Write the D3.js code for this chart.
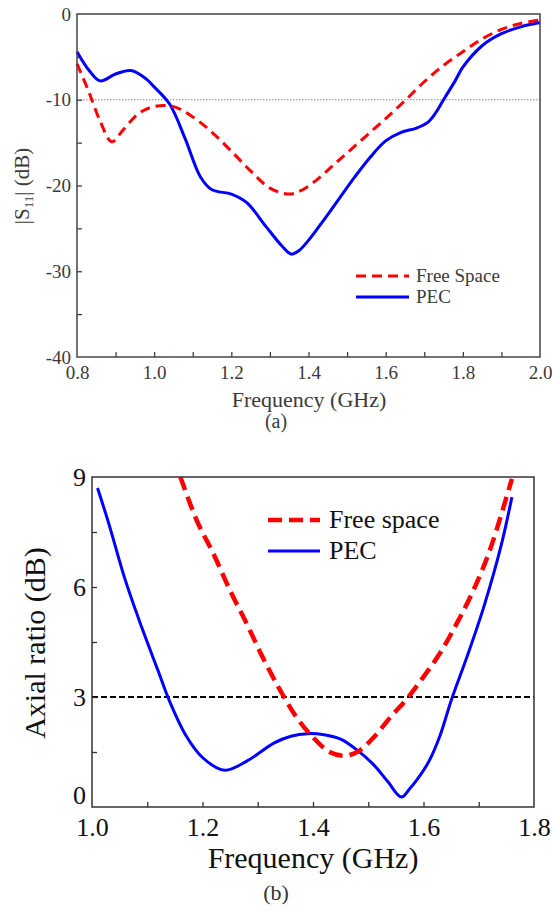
<!DOCTYPE html>
<html lang="en">
<head>
<meta charset="UTF-8">
<title>S11 and axial ratio</title>
<style>
  body { margin: 0; background: #fff; }
  svg text { font-family: "Liberation Serif", "Times New Roman", "DejaVu Serif", serif; }
</style>
</head>
<body>
<script src="https://cdnjs.cloudflare.com/ajax/libs/d3/7.8.5/d3.min.js"></script>
<script>
// (a) |S11| data, frequency in GHz
const s11Freq = [0.80, 0.83, 0.86, 0.89, 0.92, 0.96, 1.00, 1.05, 1.10, 1.15, 1.20, 1.25, 1.30, 1.35, 1.38, 1.42, 1.46, 1.50, 1.55, 1.60, 1.65, 1.70, 1.75, 1.80, 1.85, 1.90, 1.95, 2.00];
const s11Free = [-5.8, -9.0, -12.5, -14.9, -13.5, -11.6, -10.8, -10.8, -12.0, -13.8, -16.0, -18.3, -20.3, -21.0, -20.6, -19.4, -17.8, -16.2, -14.2, -12.2, -10.1, -7.9, -6.0, -4.4, -2.9, -1.8, -1.1, -0.7];
const pecFreq = [0.80, 0.83, 0.86, 0.90, 0.94, 0.98, 1.00, 1.04, 1.08, 1.12, 1.15, 1.20, 1.24, 1.29, 1.33, 1.355, 1.375, 1.40, 1.44, 1.48, 1.52, 1.56, 1.60, 1.64, 1.68, 1.71, 1.73, 1.75, 1.78, 1.80, 1.85, 1.90, 1.95, 2.00];
const s11Pec = [-4.4, -6.5, -7.8, -7.0, -6.6, -7.6, -8.5, -10.5, -14.5, -19.0, -20.5, -21.0, -22.0, -24.8, -27.0, -28.0, -27.6, -26.4, -24.0, -21.5, -19.0, -16.7, -14.8, -13.8, -13.3, -12.6, -11.5, -10.0, -7.8, -6.2, -3.7, -2.3, -1.5, -1.0];
const s11XTicks = [0.8, 1.0, 1.2, 1.4, 1.6, 1.8, 2.0];
const s11YTicks = [0, -10, -20, -30, -40];

// (b) axial ratio data
const arFreeFreq = [1.16, 1.19, 1.22, 1.25, 1.28, 1.31, 1.34, 1.37, 1.40, 1.43, 1.455, 1.48, 1.51, 1.54, 1.57, 1.60, 1.63, 1.66, 1.69, 1.72, 1.76];
const arFree = [9.0, 7.8, 6.9, 5.9, 5.0, 4.05, 3.2, 2.45, 1.9, 1.5, 1.4, 1.5, 1.9, 2.45, 2.95, 3.55, 4.2, 5.0, 5.9, 7.0, 8.95];
const arPecFreq = [1.01, 1.03, 1.06, 1.09, 1.12, 1.14, 1.17, 1.20, 1.24, 1.28, 1.33, 1.36, 1.39, 1.42, 1.45, 1.48, 1.51, 1.535, 1.56, 1.575, 1.59, 1.61, 1.63, 1.65, 1.68, 1.71, 1.74, 1.76];
const arPec = [8.7, 7.75, 6.2, 4.9, 3.7, 2.9, 1.95, 1.35, 1.0, 1.25, 1.75, 1.93, 2.0, 1.97, 1.85, 1.55, 1.15, 0.7, 0.27, 0.5, 0.78, 1.25, 1.95, 2.9, 4.15, 5.5, 7.1, 8.45];
const arXTicks = [1.0, 1.2, 1.4, 1.6, 1.8];
const arYTicks = [0, 3, 6, 9];

const svg = d3.select('body').append('svg').attr('width', 552).attr('height', 911);
const serif = '"Liberation Serif", "Times New Roman", "DejaVu Serif", serif';

const red = '#ff0000', blue = '#0000ff';

function zip(xs, ys) { return xs.map((x, i) => ({x: x, y: ys[i]})); }

// ---------- chart (a) ----------
{
  const x = d3.scaleLinear().domain([0.8, 2.0]).range([77, 540]);
  const y = d3.scaleLinear().domain([-40, 0]).range([357, 14]);
  const g = svg.append('g').attr('font-family', serif);
  const txt = '#3a3a3a';

  // -10 dB reference
  g.append('line').attr('x1', x(0.8)).attr('x2', x(2.0)).attr('y1', y(-10)).attr('y2', y(-10))
    .attr('stroke', '#888').attr('stroke-width', 1).attr('stroke-dasharray', '1.5,1.5');

  const line = d3.line().x(d => x(d.x)).y(d => y(d.y)).curve(d3.curveCatmullRom.alpha(0.5));

  g.append('path').datum(zip(pecFreq, s11Pec)).attr('d', line)
    .attr('fill', 'none').attr('stroke', blue).attr('stroke-width', 3);
  g.append('path').datum(zip(s11Freq, s11Free)).attr('d', line)
    .attr('fill', 'none').attr('stroke', red).attr('stroke-width', 3).attr('stroke-dasharray', '10,6');

  // axes (ticks inside)
  const xAxis = d3.axisBottom(x).tickValues(d3.range(0.8, 2.01, 0.1)).tickSizeInner(-5).tickSizeOuter(0)
    .tickFormat(d => s11XTicks.some(t => Math.abs(t - d) < 1e-6) ? d3.format('.1f')(d) : '');
  const gx = g.append('g').attr('transform', `translate(0,${y(-40)})`).call(xAxis);
  const yAxis = d3.axisLeft(y).tickValues(d3.range(-40, 0.1, 5)).tickSizeInner(-5).tickSizeOuter(0)
    .tickFormat(d => s11YTicks.includes(d) ? d : '');
  const gy = g.append('g').attr('transform', `translate(${x(0.8)},0)`).call(yAxis);
  [gx, gy].forEach(a => {
    a.attr('font-family', serif);
    a.select('.domain').remove();
    a.selectAll('.tick line').attr('stroke', '#333').attr('stroke-width', 1.2);
    a.selectAll('.tick text').attr('fill', txt).attr('font-size', 19).attr('font-family', serif);
  });
  gx.selectAll('.tick text').attr('y', 9);
  gy.selectAll('.tick text').attr('x', -6);
  gy.selectAll('.tick').filter(d => d === 0 || d === -40).select('line').remove();
  gx.selectAll('.tick').filter(d => Math.abs(d - 0.8) < 1e-6 || Math.abs(d - 2.0) < 1e-6).select('line').remove();

  g.append('rect').attr('x', x(0.8)).attr('y', y(0)).attr('width', x(2.0) - x(0.8)).attr('height', y(-40) - y(0))
    .attr('fill', 'none').attr('stroke', '#444').attr('stroke-width', 1.5);

  g.append('text').attr('x', 309).attr('y', 407).attr('text-anchor', 'middle')
    .attr('font-size', 22).attr('fill', txt).text('Frequency (GHz)');
  const yl = g.append('text').attr('transform', 'translate(29,186) rotate(-90)').attr('text-anchor', 'middle')
    .attr('font-size', 21).attr('fill', txt);
  yl.append('tspan').text('|S');
  yl.append('tspan').attr('font-size', 13).attr('dy', 4).text('11');
  yl.append('tspan').attr('dy', -4).text('| (dB)');

  // legend
  const leg = [{name: 'Free Space', c: red, dash: '10,6', yy: 276}, {name: 'PEC', c: blue, dash: null, yy: 297}];
  leg.forEach(l => {
    g.append('line').attr('x1', 356).attr('x2', 409).attr('y1', l.yy).attr('y2', l.yy)
      .attr('stroke', l.c).attr('stroke-width', 3).attr('stroke-dasharray', l.dash);
    g.append('text').attr('x', 416).attr('y', l.yy + 6).attr('font-size', 19).attr('fill', txt).text(l.name);
  });

  g.append('text').attr('x', 276).attr('y', 428).attr('text-anchor', 'middle')
    .attr('font-size', 20).attr('fill', txt).text('(a)');
}

// ---------- chart (b) ----------
{
  const x = d3.scaleLinear().domain([1.0, 1.8]).range([92, 534]);
  const y = d3.scaleLinear().domain([0, 9]).range([807, 477]);
  const g = svg.append('g').attr('font-family', serif);

  svg.append('clipPath').attr('id', 'clipB').append('rect')
    .attr('x', x(1.0)).attr('y', y(9)).attr('width', x(1.8) - x(1.0)).attr('height', y(0) - y(9));

  g.append('line').attr('x1', x(1.0)).attr('x2', x(1.8)).attr('y1', y(3)).attr('y2', y(3))
    .attr('stroke', '#000').attr('stroke-width', 2).attr('stroke-dasharray', '6,3');

  const line = d3.line().x(d => x(d.x)).y(d => y(d.y)).curve(d3.curveCatmullRom.alpha(0.5));
  const lines = g.append('g').attr('clip-path', 'url(#clipB)');
  lines.append('path').datum(zip(arPecFreq, arPec)).attr('d', line)
    .attr('fill', 'none').attr('stroke', blue).attr('stroke-width', 3);
  lines.append('path').datum(zip(arFreeFreq, arFree)).attr('d', line)
    .attr('fill', 'none').attr('stroke', red).attr('stroke-width', 4.5).attr('stroke-dasharray', '14,7');

  const xAxis = d3.axisBottom(x).tickValues(d3.range(1.0, 1.81, 0.1)).tickSizeInner(-5).tickSizeOuter(0)
    .tickFormat(d => arXTicks.some(t => Math.abs(t - d) < 1e-6) ? d3.format('.1f')(d) : '');
  const gx = g.append('g').attr('transform', `translate(0,${y(0)})`).call(xAxis);
  const yAxis = d3.axisLeft(y).tickValues(d3.range(0, 9.1, 1.5)).tickSizeInner(-5).tickSizeOuter(0)
    .tickFormat(d => arYTicks.includes(d) ? d : '');
  const gy = g.append('g').attr('transform', `translate(${x(1.0)},0)`).call(yAxis);
  [gx, gy].forEach(a => {
    a.attr('font-family', serif);
    a.select('.domain').remove();
    a.selectAll('.tick line').attr('stroke', '#333').attr('stroke-width', 1.3);
    a.selectAll('.tick text').attr('fill', '#111').attr('font-size', 26).attr('font-family', serif);
  });
  gx.selectAll('.tick text').attr('y', 11);
  gy.selectAll('.tick text').attr('x', -6);
  gy.selectAll('.tick').filter(d => d === 0).select('text').attr('dy', '-0.12em');
  gy.selectAll('.tick').filter(d => d === 0 || d === 9).select('line').remove();
  gx.selectAll('.tick').filter(d => Math.abs(d - 1.0) < 1e-6 || Math.abs(d - 1.8) < 1e-6).select('line').remove();

  g.append('rect').attr('x', x(1.0)).attr('y', y(9)).attr('width', x(1.8) - x(1.0)).attr('height', y(0) - y(9))
    .attr('fill', 'none').attr('stroke', '#333').attr('stroke-width', 1.5);

  g.append('text').attr('x', 313).attr('y', 868).attr('text-anchor', 'middle')
    .attr('font-size', 30).attr('fill', '#111').text('Frequency (GHz)');
  g.append('text').attr('transform', 'translate(45,643) rotate(-90)').attr('text-anchor', 'middle')
    .attr('font-size', 30).attr('fill', '#111').text('Axial ratio (dB)');

  const leg = [{name: 'Free space', c: red, dash: '14,7', w: 4.5, yy: 520}, {name: 'PEC', c: blue, dash: null, w: 3, yy: 551}];
  leg.forEach(l => {
    g.append('line').attr('x1', 268).attr('x2', 320).attr('y1', l.yy).attr('y2', l.yy)
      .attr('stroke', l.c).attr('stroke-width', l.w).attr('stroke-dasharray', l.dash);
    g.append('text').attr('x', 329).attr('y', l.yy + 8).attr('font-size', 26).attr('fill', '#111').text(l.name);
  });

  g.append('text').attr('x', 276).attr('y', 900).attr('text-anchor', 'middle')
    .attr('font-size', 22).attr('fill', '#333').text('(b)');
}
</script>
</body>
</html>
